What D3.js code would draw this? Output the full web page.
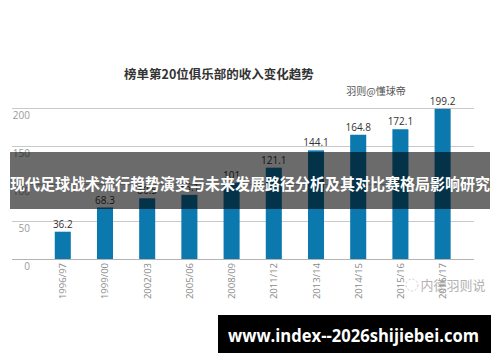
<!DOCTYPE html>
<html><head><meta charset="utf-8">
<script src="https://cdn.jsdelivr.net/npm/d3@7"></script>
<style>body{margin:0;background:#fff}svg{display:block}</style>
</head><body>
<svg id="c" width="500" height="362"></svg>
<script>
const categories = ["1996/97","1999/00","2002/03","2005/06","2008/09","2011/12","2013/14","2014/15","2015/16","2016/17"];
const values = [36.2, 68.3, 80.5, 85.1, 101, 121.1, 144.1, 164.8, 172.1, 199.2];
const valueLabels = ["36.2","68.3","80.5","85.1","101","121.1","144.1","164.8","172.1","199.2"];
const yTicks = [0, 50, 100, 150, 200];
const title = "榜单第20位俱乐部的收入变化趋势";
const credit = "羽则@懂球帝";
const watermark = "内德羽则说";
const banner = "现代足球战术流行趋势演变与未来发展路径分析及其对比赛格局影响研究";
const site = "www.index--2026shijiebei.com";

const svg = d3.select("#c");
const cjk = "'Noto Sans CJK SC','Noto Sans',sans-serif";
const x = d3.scaleBand().domain(categories).range([28.6, 476.8]).paddingInner(0.62).paddingOuter(0.62);
const y = d3.scaleLinear().domain([0, 200]).range([259, 108.2]);

// gridlines
const gx0 = 12, gx1 = 474;
svg.append("g").selectAll("line").data(yTicks).join("line")
  .attr("x1", gx0).attr("x2", gx1)
  .attr("y1", d => Math.round(y(d)) + 0.5).attr("y2", d => Math.round(y(d)) + 0.5)
  .attr("stroke", d => d === 0 ? "#b4b4b4" : "#c9c9c9").attr("stroke-width", 1);

// y tick labels
svg.append("g").selectAll("text").data(yTicks).join("text")
  .attr("x", 30).attr("y", d => y(d) + 11)
  .attr("text-anchor", "end").attr("font-family", "'Open Sans',sans-serif")
  .attr("font-size", 10).attr("fill", "#9a9a9a").text(d => d);

// bars
svg.append("g").selectAll("rect").data(values).join("rect")
  .attr("x", (d, i) => x(categories[i])).attr("width", x.bandwidth())
  .attr("y", d => y(d)).attr("height", d => y(0) - y(d))
  .attr("fill", "#0b78ae");

// value labels
svg.append("g").selectAll("text").data(values).join("text")
  .attr("x", (d, i) => x(categories[i]) + x.bandwidth() / 2)
  .attr("y", d => y(d) - 4)
  .attr("text-anchor", "middle").attr("font-family", "'Open Sans',sans-serif")
  .attr("font-size", 10).attr("fill", "#333").text((d, i) => valueLabels[i]);

// x labels rotated
svg.append("g").selectAll("text").data(categories).join("text")
  .attr("transform", d => `translate(${x(d) + x.bandwidth() / 2 + 3.5},263) rotate(-90)`)
  .attr("text-anchor", "end").attr("font-family", "'Open Sans',sans-serif")
  .attr("font-size", 9.5).attr("fill", "#8a8a8a").text(d => d);

// title
svg.append("text").attr("x", 219).attr("y", 79).attr("text-anchor", "middle")
  .attr("font-family", cjk).attr("font-weight", "bold").attr("font-size", 12.5)
  .attr("fill", "#333").text(title);
svg.append("text").attr("x", 376).attr("y", 95).attr("text-anchor", "middle")
  .attr("font-family", cjk).attr("font-size", 10).attr("fill", "#555").text(credit);

// watermark
const wm = svg.append("g").attr("opacity", 0.75);
wm.append("circle").attr("cx", 412).attr("cy", 285).attr("r", 6)
  .attr("fill", "none").attr("stroke", "#bbb").attr("stroke-dasharray", "2,2");
wm.append("text").attr("x", 453).attr("y", 290).attr("text-anchor", "middle")
  .attr("font-family", cjk).attr("font-size", 13).attr("fill", "#999").text(watermark);

// banner overlay
svg.append("rect").attr("x", 10).attr("y", 152).attr("width", 480).attr("height", 57)
  .attr("fill", "#000").attr("fill-opacity", 0.58);
svg.append("text").attr("x", 250).attr("y", 189.5).attr("text-anchor", "middle")
  .attr("font-family", cjk).attr("font-weight", "bold").attr("font-size", 15.5)
  .attr("textLength", 480).attr("lengthAdjust", "spacingAndGlyphs")
  .attr("fill", "#fff").text(banner);

// site box
svg.append("rect").attr("x", 218).attr("y", 315).attr("width", 273).attr("height", 38).attr("fill", "#000");
svg.append("text").attr("x", 353.5).attr("y", 341.5).attr("text-anchor", "middle")
  .attr("font-family", "'Open Sans','DejaVu Sans',sans-serif").attr("font-weight", "bold").attr("font-size", 17)
  .attr("textLength", 251).attr("lengthAdjust", "spacingAndGlyphs")
  .attr("fill", "#fff").text(site);
</script>
</body></html>
